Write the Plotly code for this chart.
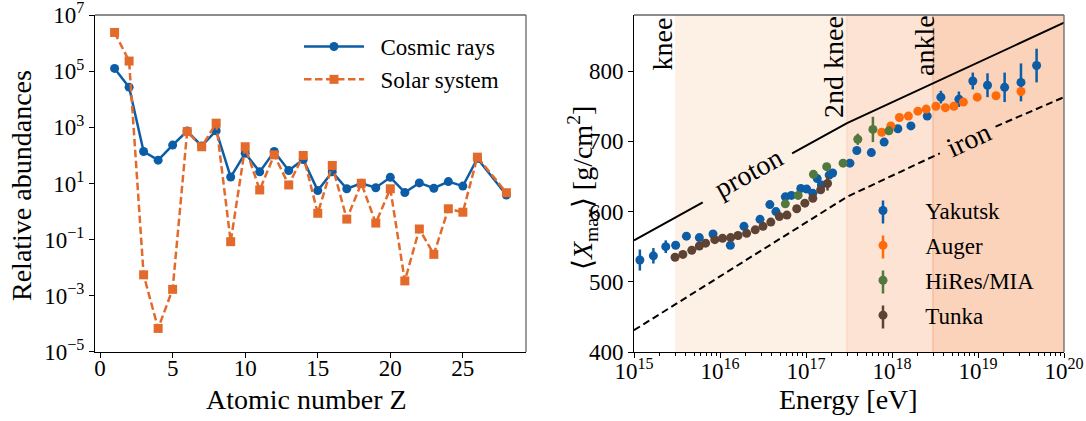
import plotly.graph_objects as go

# ---------------- data: left panel ----------------
Z = [1, 2, 3, 4, 5, 6, 7, 8, 9, 10, 11, 12, 13, 14, 15, 16, 17, 18, 19, 20,
     21, 22, 23, 24, 25, 26, 28]
cosmic_rays = [1.26e5, 2.7e4, 138, 68, 234, 741, 219, 759, 17, 120, 26, 138, 29,
               72, 5.6, 26, 6.5, 10.2, 7.1, 16.6, 4.8, 10.5, 6.8, 11.7, 8.1, 78, 3.9]
solar_system = [2.4e6, 2.3e5, 5.6e-3, 6.9e-5, 1.7e-3, 708, 204, 1410, 0.085, 204,
                5.9, 105, 8.9, 100, 0.87, 44, 0.54, 10.2, 0.39, 6.5, 3.4e-3, 0.24,
                0.030, 1.26, 0.95, 87, 4.7]

# ---------------- data: right panel ----------------
yak_E = [1.17e15, 1.68e15, 2.34e15, 3.05e15, 4.07e15, 5.75e15, 8.3e15, 1.32e16,
         1.9e16, 2.92e16, 3.8e16, 4.47e16, 5.75e16, 6.76e16, 8.7e16, 1.02e17,
         1.2e17, 1.35e17, 1.51e17, 1.86e17, 2.04e17, 3.24e17, 3.9e17, 5.75e17,
         8.1e17, 1.17e18, 1.66e18, 2.57e18, 3.7e18, 6.0e18, 8.7e18, 1.29e19,
         2.04e19, 3.16e19, 4.8e19]
yak_X = [531, 537, 550, 552, 565, 563, 568, 552, 579, 589, 610, 600, 621, 623, 633,
         632, 626, 647, 638, 652, 655, 669, 687, 684, 699, 718, 722, 736, 763, 760,
         786, 780, 777, 784, 808]
yak_err = [15, 11, 9, 5, 5, 4, 4, 4, 4, 4, 4, 4, 4, 4, 4, 4, 4, 4, 4, 4, 4, 4, 5,
           5, 5, 5, 5, 5, 9, 11, 12, 17, 21, 27, 24]

aug_E = [7.6e17, 9.7e17, 1.22e18, 1.55e18, 2.0e18, 2.5e18, 3.24e18, 4.17e18,
         5.25e18, 6.76e18, 9.8e18, 1.62e19, 3.16e19]
aug_X = [713, 722, 734, 736, 743, 746, 750, 748, 750, 756, 763, 765, 771]
aug_err = [2, 2, 2, 2, 2, 2, 2, 2, 2, 3, 3, 3, 4]

hir_E = [5.75e16, 8.1e16, 1.22e17, 1.74e17, 2.7e17, 4.0e17, 6.0e17, 9.2e17]
hir_X = [611, 623, 653, 664, 669, 703, 717, 715]
hir_err = [4, 4, 4, 4, 4, 8, 18, 4]

tun_E = [3.0e15, 3.7e15, 4.7e15, 5.75e15, 6.8e15, 8.7e15, 1.07e16, 1.33e16,
         1.62e16, 2.04e16, 2.57e16, 3.16e16, 3.9e16, 4.9e16, 6.0e16, 7.8e16,
         9.7e16, 1.2e17, 1.48e17, 1.78e17]
tun_X = [535, 539, 545, 551, 555, 560, 562, 563, 566, 569, 574, 579, 585, 593,
         595, 604, 612, 619, 631, 640]
tun_err = [3, 3, 3, 3, 3, 3, 3, 3, 3, 3, 3, 3, 3, 3, 3, 3, 3, 5, 4, 10]

proton_E = [1e15, 6.3e15, None, 6.9e16, 3.0e17, 1e20]
proton_X = [559, 613, None, 683, 726, 869]
iron_E = [1e15, 3.0e17, 3.6e18, None, 1.6e19, 1e20]
iron_X = [431, 621, 683, None, 721, 763]

left_ticks = [0, 5, 10, 15, 20, 25]
left_yticks = [1e-5, 1e-3, 1e-1, 1e1, 1e3, 1e5, 1e7]
left_yticktext = ["10<sup>−5</sup>", "10<sup>−3</sup>", "10<sup>−1</sup>",
                  "10<sup>1</sup>", "10<sup>3</sup>", "10<sup>5</sup>", "10<sup>7</sup>"]
right_xticks = [1e15, 1e16, 1e17, 1e18, 1e19, 1e20]
right_xticktext = ["10<sup>15</sup>", "10<sup>16</sup>", "10<sup>17</sup>",
                   "10<sup>18</sup>", "10<sup>19</sup>", "10<sup>20</sup>"]
right_yticks = [400, 500, 600, 700, 800]

# ---------------- styling ----------------
FONT = "Liberation Serif"
FS = 23        # ticks and legends
FS_T = 28      # axis titles and region labels
FS_L = 28      # proton / iron labels
BLUE = "#0C5DA5"
ORANGE_L = "#E36A2A"
AUGER = "#FF6A0A"
GREEN = "#52773F"
BROWN = "#5E4234"
W, H = 1086, 421
L_X0, L_X1 = 95, 526
R_X0, R_X1 = 634, 1064
TOP, BOT = 15, 352

def px_x(p):
    return p / W

def px_y(p):
    return (BOT - p) / (BOT - TOP)

fig = go.Figure()

# left panel
fig.add_trace(go.Scatter(
    x=Z, y=cosmic_rays, mode="lines+markers", name="\u00a0\u00a0Cosmic rays",
    line=dict(color=BLUE, width=2.5), marker=dict(color=BLUE, size=9, symbol="circle"),
    xaxis="x", yaxis="y", legend="legend", legendgroup="a"))
fig.add_trace(go.Scatter(
    x=Z, y=solar_system, mode="lines+markers", name="\u00a0\u00a0Solar system",
    line=dict(color=ORANGE_L, width=2.5, dash="7.5px,3.5px"),
    marker=dict(color=ORANGE_L, size=9, symbol="square"),
    xaxis="x", yaxis="y", legend="legend", legendgroup="b"))

# right panel lines
fig.add_trace(go.Scatter(x=proton_E, y=proton_X, mode="lines", showlegend=False,
                         line=dict(color="black", width=2), connectgaps=False,
                         xaxis="x2", yaxis="y2", hoverinfo="skip"))
fig.add_trace(go.Scatter(x=iron_E, y=iron_X, mode="lines", showlegend=False,
                         line=dict(color="black", width=2, dash="7px,4px"),
                         connectgaps=False, xaxis="x2", yaxis="y2", hoverinfo="skip"))

def exp_trace(E, X, err, color, name, grp):
    return go.Scatter(
        x=E, y=X, mode="markers", name="\u00a0\u00a0\u00a0" + name,
        marker=dict(color=color, size=9),
        error_y=dict(type="data", array=err, visible=True, color=color,
                     thickness=2.5, width=0),
        xaxis="x2", yaxis="y2", legend="legend2", legendgroup=grp)

series = [(yak_E, yak_X, yak_err, BLUE, "Yakutsk", "c"),
          (aug_E, aug_X, aug_err, AUGER, "Auger", "d"),
          (hir_E, hir_X, hir_err, GREEN, "HiRes/MIA", "e"),
          (tun_E, tun_X, tun_err, BROWN, "Tunka", "f")]
for s in series:
    fig.add_trace(exp_trace(*s))

axis_common = dict(showgrid=False, zeroline=False, showline=True, linecolor="black",
                   linewidth=1, ticks="outside", ticklen=5, tickwidth=1,
                   automargin=False, ticklabeloverflow="allow",
                   tickcolor="black", tickfont=dict(family=FONT, size=FS, color="black"))

minor_vals = [float(k) * 10.0 ** n for n in range(15, 20) for k in range(2, 10)]

LEG1_X, LEG1_TOP = 299, 25
LEG2_X, LEG2_TOP = 858, 189
ROW2_H = 35

fig.update_layout(
    template="none",
    width=W, height=H, autosize=False,
    margin=dict(l=0, r=0, t=TOP, b=H - BOT, pad=0, autoexpand=False),
    paper_bgcolor="white", plot_bgcolor="white",
    font=dict(family=FONT, size=FS, color="black"),
    xaxis=dict(domain=[L_X0 / W, L_X1 / W], range=[-0.35, 29.35],
               tickvals=left_ticks, anchor="y", ticklabelstandoff=-10,
               **axis_common),
    yaxis=dict(domain=[0, 1], type="log", range=[-5.0005, 7.002],
               tickvals=left_yticks, ticktext=left_yticktext, anchor="x",
               **axis_common),
    xaxis2=dict(domain=[R_X0 / W, R_X1 / W], type="log", range=[15, 20],
                tickvals=right_xticks, ticktext=right_xticktext, anchor="y2",
                ticklabelstandoff=-7,
                minor=dict(tickvals=minor_vals, ticks="outside", ticklen=3,
                           tickwidth=1, tickcolor="black", showgrid=False),
                **axis_common),
    yaxis2=dict(domain=[0, 1], range=[400, 880], tickvals=right_yticks,
                anchor="x2", **axis_common),
    legend=dict(x=px_x(LEG1_X), y=px_y(LEG1_TOP), xanchor="left",
                yanchor="top", bgcolor="rgba(0,0,0,0)", itemwidth=60,
                tracegroupgap=0, font=dict(family=FONT, size=FS)),
    legend2=dict(x=px_x(LEG2_X), y=px_y(LEG2_TOP), xanchor="left",
                 yanchor="top", bgcolor="rgba(0,0,0,0)", itemwidth=40,
                 tracegroupgap=2, font=dict(family=FONT, size=FS)),
    showlegend=True,
)

shapes = []
# shaded energy regions
shapes.append(dict(type="rect", xref="x2", yref="y2 domain", x0=3e15, x1=3e17,
                   y0=0, y1=1, fillcolor="#FDF1E6", line=dict(width=0), layer="below"))
shapes.append(dict(type="rect", xref="x2", yref="y2 domain", x0=3e17, x1=3e18,
                   y0=0, y1=1, fillcolor="#FDE3D3", line=dict(width=0), layer="below"))
shapes.append(dict(type="rect", xref="x2", yref="y2 domain", x0=3e18, x1=1e20,
                   y0=0, y1=1, fillcolor="#FBD2BA", line=dict(width=0), layer="below"))
shapes.append(dict(type="line", xref="x2", yref="y2 domain", x0=3e17, x1=3e17,
                   y0=0, y1=1, line=dict(color="#F9DAC6", width=1.5), layer="below"))
shapes.append(dict(type="line", xref="x2", yref="y2 domain", x0=3e18, x1=3e18,
                   y0=0, y1=1, line=dict(color="#F4BE9E", width=1.5), layer="below"))
# grey top/right spines
for xr, yr in (("x", "y"), ("x2", "y2")):
    shapes.append(dict(type="line", xref=xr + " domain", yref=yr + " domain",
                       x0=0, x1=1, y0=1, y1=1, line=dict(color="#666666", width=1.3)))
    shapes.append(dict(type="line", xref=xr + " domain", yref=yr + " domain",
                       x0=1, x1=1, y0=0, y1=1, line=dict(color="#666666", width=1.3)))
# vertical error-bar strokes for the right legend symbols
for i, s in enumerate(series):
    cy = LEG2_TOP + 23 + i * ROW2_H
    shapes.append(dict(type="line", xref="paper", yref="paper",
                       x0=px_x(LEG2_X + 25), x1=px_x(LEG2_X + 25),
                       y0=px_y(cy - 11.5), y1=px_y(cy + 11.5),
                       line=dict(color=s[3], width=2.5)))
fig.update_layout(shapes=shapes)

def ctr(size):
    return dict(xanchor="center", yanchor="middle", showarrow=False,
                font=dict(family=FONT, size=size, color="black"))

ann = []
ann.append(dict(text="Relative abundances", x=px_x(21), y=px_y(186), xref="paper",
                yref="paper", textangle=-90, **ctr(FS_T)))
ann.append(dict(text="Atomic number Z", x=px_x(306), y=px_y(399), xref="paper",
                yref="paper", **ctr(FS_T)))
ann.append(dict(text="Energy [eV]", x=px_x(849), y=px_y(399), xref="paper",
                yref="paper", **ctr(FS_T)))
ann.append(dict(text="⟨<i>X</i><sub>max</sub>⟩ [g/cm<sup>2</sup>]", x=px_x(582),
                y=px_y(188), xref="paper", yref="paper", textangle=-90, **ctr(FS_T)))
# region labels (x in log10 for log axis annotations)
ann.append(dict(text="knee", x=15.326, y=838, xref="x2", yref="y2", textangle=-90,
                **ctr(FS_T)))
ann.append(dict(text="2nd knee", x=17.326, y=806, xref="x2", yref="y2", textangle=-90,
                **ctr(FS_T)))
ann.append(dict(text="ankle", x=18.384, y=836, xref="x2", yref="y2", textangle=-90,
                **ctr(FS_T)))
ann.append(dict(text="proton", x=16.337, y=655, xref="x2", yref="y2", textangle=-29,
                **ctr(FS_L)))
ann.append(dict(text="iron", x=18.895, y=703, xref="x2", yref="y2", textangle=-25,
                **ctr(FS_L)))
fig.update_layout(annotations=ann)

fig.write_html("out.html")
